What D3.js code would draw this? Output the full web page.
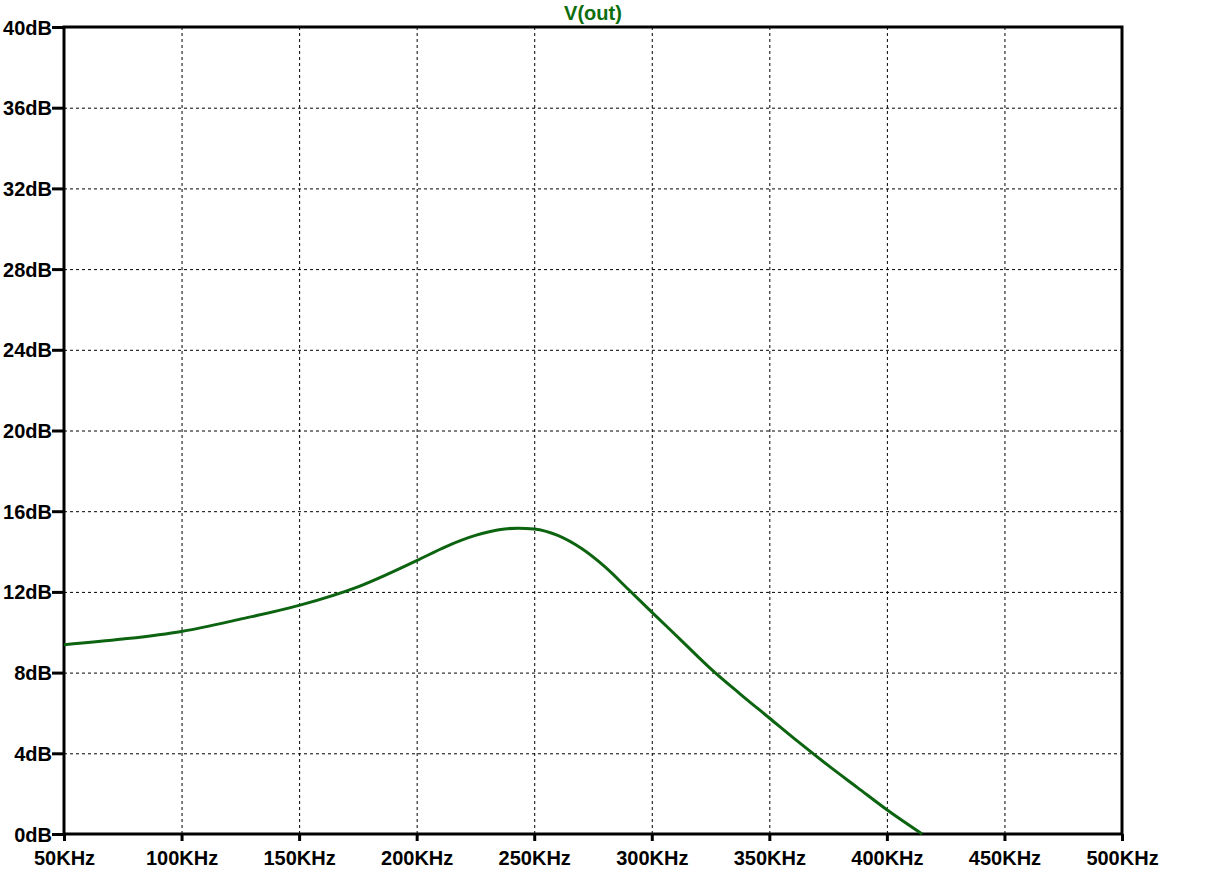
<!DOCTYPE html>
<html><head><meta charset="utf-8">
<script src="https://cdn.jsdelivr.net/npm/d3@7"></script>
<style>body{margin:0;background:#fff}svg{display:block}</style>
</head><body>
<script>
const freqKHz = [50, 75, 100, 125, 150, 175, 200, 212.5, 225, 235, 243, 250, 260, 270, 280, 290, 300, 312.5, 325, 337.5, 350, 362.5, 375, 387.5, 400, 415];
const gainDB  = [9.38, 9.66, 10.04, 10.65, 11.33, 12.25, 13.55, 14.25, 14.8, 15.08, 15.16, 15.12, 14.8, 14.16, 13.25, 12.13, 11.0, 9.6, 8.2, 6.95, 5.75, 4.55, 3.4, 2.3, 1.2, 0.0];
const xTicks = [50,100,150,200,250,300,350,400,450,500];
const yTicks = [0,4,8,12,16,20,24,28,32,36,40];
const title = "V(out)";

const W = 1216, H = 873;
const m = {left:64, right:1122, top:27, bottom:834};
const svg = d3.select("body").append("svg").attr("width", W).attr("height", H);
const x = d3.scaleLinear().domain([50,500]).range([m.left, m.right]);
const y = d3.scaleLinear().domain([0,40]).range([m.bottom, m.top]);
const font = "Arial, 'Liberation Sans', sans-serif";

// grid
const g = svg.append("g");
g.selectAll(".vg").data(xTicks.slice(1,-1)).join("line")
  .attr("x1", d=>x(d)+0.5).attr("x2", d=>x(d)+0.5).attr("y1", m.top).attr("y2", m.bottom)
  .attr("stroke","#000").attr("stroke-width",1).attr("stroke-dasharray","3,3");
g.selectAll(".hg").data(yTicks.slice(1,-1)).join("line")
  .attr("y1", d=>y(d)+0.5).attr("y2", d=>y(d)+0.5).attr("x1", m.left).attr("x2", m.right)
  .attr("stroke","#000").attr("stroke-width",1).attr("stroke-dasharray","3,3");

// axes
const xAxis = svg.append("g").attr("transform",`translate(0,${m.bottom})`)
  .call(d3.axisBottom(x).tickValues(xTicks).tickSize(7).tickFormat(d=>d+"KHz"));
const yAxis = svg.append("g").attr("transform",`translate(${m.left},0)`)
  .call(d3.axisLeft(y).tickValues(yTicks).tickSize(12).tickFormat(d=>d+"dB"));
[xAxis,yAxis].forEach(a=>{
  a.select(".domain").remove();
  a.selectAll(".tick line").attr("stroke","#000").attr("stroke-width",3);
  a.selectAll(".tick text").attr("fill","#000").attr("font-family",font)
    .attr("font-size",20).attr("font-weight","bold");
});
xAxis.selectAll(".tick text").attr("dy",null).attr("y",31);
yAxis.selectAll(".tick text").attr("x",-12).attr("dy","0.35em");

// frame
svg.append("rect").attr("x",m.left).attr("y",m.top)
  .attr("width",m.right-m.left).attr("height",m.bottom-m.top)
  .attr("fill","none").attr("stroke","#000").attr("stroke-width",3);

// curve
const data = freqKHz.map((f,i)=>[f,gainDB[i]]);
svg.append("path").datum(data)
  .attr("d", d3.line().x(d=>x(d[0])).y(d=>y(d[1])).curve(d3.curveMonotoneX))
  .attr("fill","none").attr("stroke","#0d6410").attr("stroke-width",3);

// title
svg.append("text").attr("x",(m.left+m.right)/2).attr("y",20).attr("text-anchor","middle")
  .attr("font-family",font).attr("font-size",20).attr("font-weight","bold")
  .attr("fill","#0d6e0d").text(title);
</script>
</body></html>
